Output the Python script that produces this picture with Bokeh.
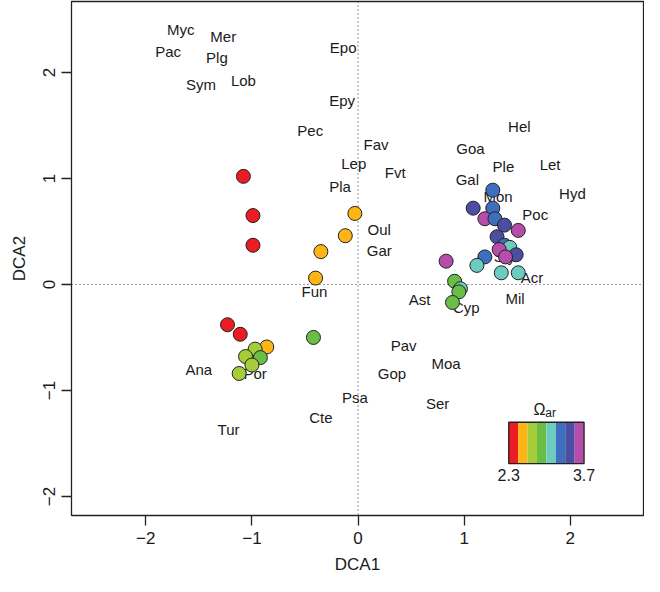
import numpy as np
from bokeh.plotting import figure
from bokeh.models import Span, Range1d, FixedTicker, CustomJSTickFormatter
from bokeh.core.properties import value
from bokeh.embed import file_html
from bokeh.resources import INLINE

# ---- data -------------------------------------------------------------
omega_colors = ["#EC1C24", "#FDB515", "#A5CD39", "#6ABD45",
                "#6CCCC0", "#3E6FBF", "#4B4EA3", "#B54DA9"]
omega_low, omega_high = "2.3", "3.7"

genus_labels = ["Myc", "Mer", "Pac", "Plg", "Sym", "Lob", "Epo", "Epy", "Pec",
                "Fav", "Lep", "Fvt", "Pla", "Oul", "Gar", "Fun", "Hel", "Goa",
                "Let", "Ple", "Gal", "Mon", "Hyd", "Poc", "Sty", "Acr", "Mil",
                "Ast", "Cyp", "Pav", "Moa", "Gop", "Ser", "Psa", "Cte", "Ana",
                "Por", "Tur"]
label_x = [-1.67, -1.27, -1.79, -1.33, -1.48, -1.08, -0.14, -0.15, -0.45,
           0.17, -0.04, 0.35, -0.17, 0.20, 0.20, -0.41, 1.52, 1.06,
           1.81, 1.37, 1.03, 1.32, 2.02, 1.67, 1.38, 1.64, 1.48,
           0.58, 1.02, 0.43, 0.83, 0.32, 0.75, -0.03, -0.35, -1.50,
           -0.97, -1.22]
label_y = [2.41, 2.34, 2.20, 2.14, 1.89, 1.92, 2.24, 1.74, 1.45,
           1.32, 1.14, 1.06, 0.92, 0.52, 0.32, -0.07, 1.49, 1.28,
           1.13, 1.11, 0.99, 0.83, 0.86, 0.66, 0.26, 0.07, -0.13,
           -0.14, -0.22, -0.58, -0.75, -0.84, -1.12, -1.07, -1.26, -0.80,
           -0.84, -1.37]

pt_x = [-1.08, -0.99, -0.99, -1.23, -1.11,
        -0.03, -0.12, -0.35, -0.40, -0.86,
        -0.42, -0.97, -1.06, -0.92, -1.00, -1.12,
        1.27, 1.085, 1.27, 1.195, 1.29, 1.38, 1.51, 1.31, 1.38, 1.43, 1.33,
        1.49, 1.39, 0.83, 1.195, 1.12, 1.35, 1.51, 0.91, 0.965, 0.95, 0.89]
pt_y = [1.02, 0.65, 0.37, -0.38, -0.47,
        0.67, 0.46, 0.31, 0.06, -0.59,
        -0.50, -0.61, -0.68, -0.69, -0.76, -0.84,
        0.89, 0.72, 0.72, 0.62, 0.62, 0.56, 0.51, 0.45, 0.37, 0.35, 0.33,
        0.28, 0.26, 0.22, 0.26, 0.18, 0.11, 0.11, 0.03, -0.04, -0.07, -0.17]
pt_class = [0, 0, 0, 0, 0,
            1, 1, 1, 1, 1,
            3, 2, 2, 3, 2, 2,
            5, 6, 5, 7, 5, 6, 7, 6, 5, 4, 7,
            6, 7, 7, 5, 4, 4, 4, 3, 4, 3, 3]

ticks = [-2, -1, 0, 1, 2]

# ---- figure -----------------------------------------------------------
FONT = "Liberation Sans"
p = figure(width=644, height=576, output_backend="svg", toolbar_location=None,
           x_range=Range1d(-2.70, 2.69), y_range=Range1d(-2.18, 2.67),
           min_border_left=71, min_border_right=1, min_border_top=1,
           min_border_bottom=59)
p.background_fill_color = "white"
p.border_fill_color = "white"
p.grid.visible = False
p.outline_line_color = "#222222"
p.outline_line_width = 1.3

fmt = CustomJSTickFormatter(code="return (tick < 0 ? '\u2212' : '') + Math.abs(tick).toFixed(0);")
for ax, lab in ((p.xaxis[0], "DCA1"), (p.yaxis[0], "DCA2")):
    ax.ticker = FixedTicker(ticks=ticks)
    ax.formatter = fmt
    ax.axis_label = lab
    ax.axis_line_color = None
    ax.minor_tick_line_color = None
    ax.major_tick_in = 0
    ax.major_tick_out = 10
    ax.major_tick_line_color = "#222222"
    ax.major_tick_line_width = 1.3
    ax.major_label_text_font = FONT
    ax.major_label_text_font_size = "17px"
    ax.major_label_text_color = "#1a1a1a"
    ax.axis_label_text_font = FONT
    ax.axis_label_text_font_size = "17px"
    ax.axis_label_text_font_style = "normal"
    ax.axis_label_text_color = "#1a1a1a"
p.xaxis.major_label_standoff = 6
p.xaxis.axis_label_standoff = 8
p.yaxis.major_label_orientation = "vertical"
p.yaxis.major_label_standoff = 6
p.yaxis.axis_label_standoff = 12

p.add_layout(Span(location=0, dimension="height", line_dash="1 3",
                  line_color="#333333", line_width=1, level="underlay"))
p.add_layout(Span(location=0, dimension="width", line_dash="1 3",
                  line_color="#333333", line_width=1, level="underlay"))

p.text(x=label_x, y=label_y, text=genus_labels, text_align="center",
       text_baseline="middle", text_font=value(FONT), text_font_size="15px",
       text_color="#1a1a1a")

p.scatter(x=pt_x, y=pt_y, size=14,
          fill_color=[omega_colors[c] for c in pt_class],
          line_color="#222222", line_width=1)

# ---- colour key -------------------------------------------------------
kx0, kx1, ky0, ky1 = 1.42, 2.13, -1.69, -1.30
edges = np.linspace(kx0, kx1, len(omega_colors) + 1)
p.quad(left=edges[:-1], right=edges[1:], bottom=ky0, top=ky1,
       fill_color=omega_colors, line_color=None)
p.quad(left=[kx0], right=[kx1], bottom=[ky0], top=[ky1],
       fill_color=None, line_color="#222222", line_width=1.3)
p.text(x=[kx0, kx1], y=[ky0 - 0.11] * 2, text=[omega_low, omega_high],
       text_align="center", text_baseline="middle", text_font=value(FONT),
       text_font_size="16px", text_color="#1a1a1a")
p.text(x=[(kx0 + kx1) / 2 - 0.01], y=[ky1 + 0.04], text=["Ω"],
       text_align="right", text_baseline="bottom", text_font=value(FONT),
       text_font_size="16px", text_color="#1a1a1a")
p.text(x=[(kx0 + kx1) / 2 - 0.01], y=[ky1 + 0.025], text=["ar"],
       text_align="left", text_baseline="bottom", text_font=value(FONT),
       text_font_size="12px", text_color="#1a1a1a")

open("out.html", "w").write(file_html(p, INLINE))
